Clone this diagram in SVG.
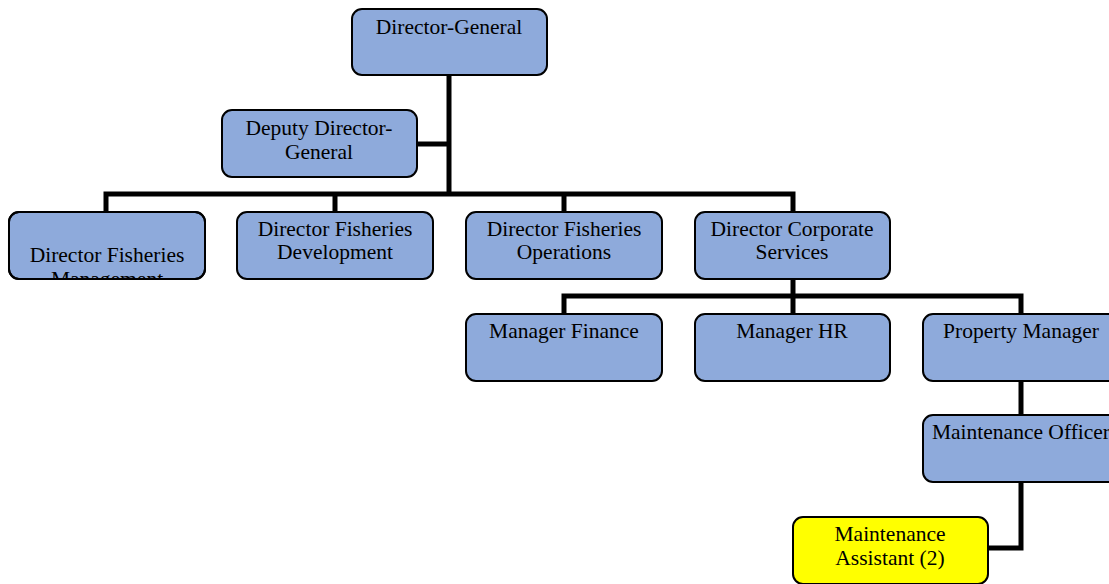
<svg xmlns="http://www.w3.org/2000/svg" width="1109" height="584" viewBox="0 0 1109 584">
<style>
.box{fill:#8EAADB;stroke:#000;stroke-width:2}
.hl{fill:#FFFF00;stroke:#000;stroke-width:2}
.t{font-family:"Liberation Serif","Times New Roman",serif;font-size:21.5px;fill:#000;text-anchor:middle}
.c{fill:none;stroke:#000;stroke-width:5}
</style>
<defs>
<clipPath id="clipDFM"><rect x="9" y="212" width="196" height="67" rx="10"/></clipPath>
</defs>
<g id="connectors">
<path class="c" d="M449 75V194"/>
<path class="c" d="M417 144H449"/>
<path class="c" d="M106 212V194H793V212"/>
<path class="c" d="M335 194V212M564 194V212"/>
<path class="c" d="M793 279V296"/>
<path class="c" d="M564 314V296H1021V314"/>
<path class="c" d="M793 296V314"/>
<path class="c" d="M1021 381V415"/>
<path class="c" d="M1021 482V548H988"/>
</g>
<g id="dg"><rect class="box" x="352" y="9" width="195" height="66" rx="10"/><text class="t" x="449" y="34">Director-General</text></g>
<g id="ddg"><rect class="box" x="222" y="110" width="195" height="67" rx="10"/><text class="t" x="319" y="135">Deputy Director-</text><text class="t" x="319" y="159">General</text></g>
<g id="dfm"><rect class="box" x="9" y="212" width="196" height="67" rx="10"/><g clip-path="url(#clipDFM)"><text class="t" x="107" y="262">Director Fisheries</text><text class="t" x="107" y="286">Management</text></g><rect x="9" y="212" width="196" height="67" rx="10" fill="none" stroke="#000" stroke-width="2"/></g>
<g id="dfd"><rect class="box" x="237" y="212" width="196" height="67" rx="10"/><text class="t" x="335" y="236">Director Fisheries</text><text class="t" x="335" y="259">Development</text></g>
<g id="dfo"><rect class="box" x="466" y="212" width="196" height="67" rx="10"/><text class="t" x="564" y="236">Director Fisheries</text><text class="t" x="564" y="259">Operations</text></g>
<g id="dcs"><rect class="box" x="695" y="212" width="195" height="67" rx="10"/><text class="t" x="792" y="236">Director Corporate</text><text class="t" x="792" y="259">Services</text></g>
<g id="mf"><rect class="box" x="466" y="314" width="196" height="67" rx="10"/><text class="t" x="564" y="338">Manager Finance</text></g>
<g id="mhr"><rect class="box" x="695" y="314" width="195" height="67" rx="10"/><text class="t" x="792" y="338">Manager HR</text></g>
<g id="pm"><rect class="box" x="923" y="314" width="196" height="67" rx="10"/><text class="t" x="1021" y="338">Property Manager</text></g>
<g id="mo"><rect class="box" x="923" y="415" width="196" height="67" rx="10"/><text class="t" x="1021" y="439">Maintenance Officer</text></g>
<g id="ma"><rect class="hl" x="793" y="517" width="195" height="67" rx="10"/><text class="t" x="890" y="541">Maintenance</text><text class="t" x="890" y="565">Assistant (2)</text></g>
</svg>
